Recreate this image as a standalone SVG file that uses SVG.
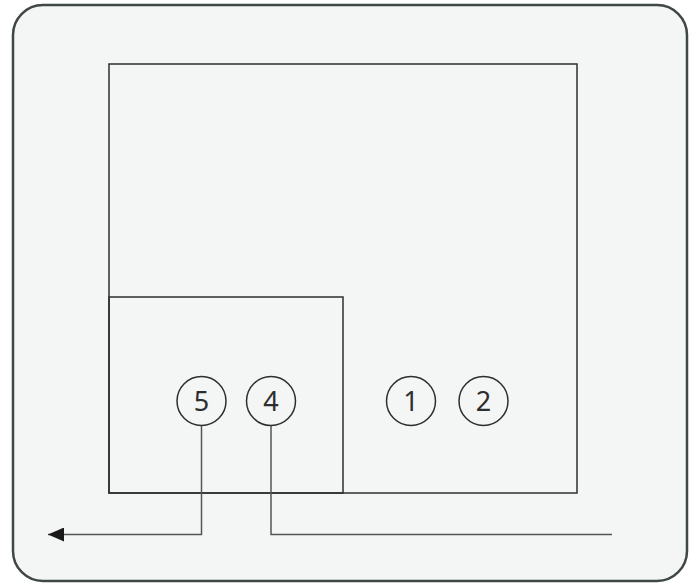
<svg xmlns="http://www.w3.org/2000/svg" width="696" height="583" viewBox="0 0 696 583">
<defs>
<style>
.box{fill:none;stroke:#2e2e2e;stroke-width:1.5}
.circ{fill:none;stroke:#2e2e2e;stroke-width:1.5}
.lbl{font-family:"Noto Sans","Open Sans",sans-serif;font-size:27px;fill:#2e2e2e;text-anchor:middle}
.wire{fill:none;stroke:#555555;stroke-width:1.5}
</style>
<marker id="arr" viewBox="0 0 16 14" refX="16" refY="7" markerWidth="16" markerHeight="14" markerUnits="userSpaceOnUse" orient="auto">
<path d="M0,0 L16,7 L0,14 Z" fill="#1a1a1a"/>
</marker>
</defs>
<rect x="13" y="5" width="674" height="576" rx="30" ry="30" fill="#f4f6f5" stroke="#3f4846" stroke-width="2.5"/>
<g id="outer-box"><rect class="box" x="109" y="64" width="468" height="429"/></g>
<g id="inner-box"><rect class="box" x="109" y="297" width="234" height="196"/></g>
<g id="connectors">
<polyline class="wire" points="201.5,426 201.5,534.5 48,534.5" marker-end="url(#arr)"/>
<polyline class="wire" points="271,426 271,534.5 612,534.5"/>
</g>
<g id="node5"><circle class="circ" cx="201.5" cy="401" r="24.5"/><text class="lbl" x="201.5" y="411">5</text></g>
<g id="node4"><circle class="circ" cx="271" cy="401" r="24.5"/><text class="lbl" x="271" y="411">4</text></g>
<g id="node1"><circle class="circ" cx="411" cy="401" r="24.5"/><text class="lbl" x="411" y="411">1</text></g>
<g id="node2"><circle class="circ" cx="483.5" cy="401" r="24.5"/><text class="lbl" x="483.5" y="411">2</text></g>
</svg>
